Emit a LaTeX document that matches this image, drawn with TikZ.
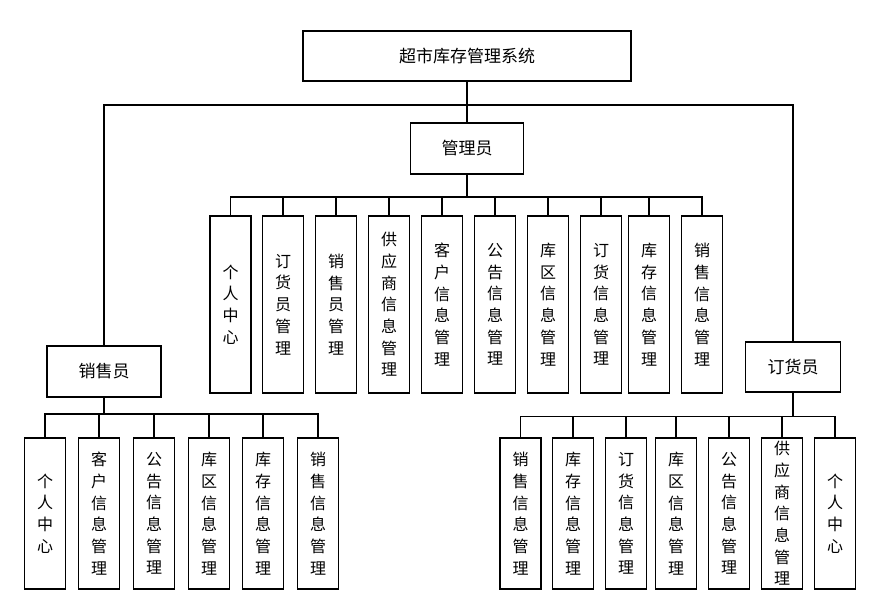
\documentclass[tikz,border=0pt]{standalone}
\usepackage{fontspec}
\setmainfont{Noto Sans CJK SC}
\usetikzlibrary{positioning}
\tikzset{
  headbox/.style={draw, line width=1.1pt, inner sep=0pt,
    font=\fontsize{17}{20}\selectfont},
  leafbox/.style={draw, line width=1.1pt, inner sep=0pt, align=center,
    minimum width=41pt, font=\fontsize{16}{21.7}\selectfont},
  link/.style={line width=1.3pt}
}

\begin{document}
\begin{tikzpicture}[x=1pt, y=-1pt]
  \useasboundingbox (0, 0) rectangle (869, 602);

  % heads
  \node[headbox, minimum width=328pt, minimum height=50pt] (sys) at (467, 56) {超市库存管理系统};
  \node[headbox, minimum width=113pt, minimum height=51pt] (mgr) at (467, 148.5) {管理员};
  \node[headbox, minimum width=114pt, minimum height=51pt] (sale) at (104, 371.5) {销售员};
  \node[headbox, minimum width=95pt, minimum height=50pt] (order) at (793, 367) {订货员};

  \coordinate (top) at (467, 105);
  \draw[link] (sys.south) -- (mgr.north);
  \draw[link] (sale.north) |- (top) -| (order.north);

  % 1
  \coordinate (mbus) at (467, 197);
  \draw[link] (mgr.south) -- (mbus);
  \foreach \x/\txt [count=\i] in {
      230.5/{个\\人\\中\\心}, 283/{订\\货\\员\\管\\理}, 336/{销\\售\\员\\管\\理},
      389/{供\\应\\商\\信\\息\\管\\理}, 442/{客\\户\\信\\息\\管\\理},
      495/{公\\告\\信\\息\\管\\理}, 548/{库\\区\\信\\息\\管\\理},
      601/{订\\货\\信\\息\\管\\理}, 649/{库\\存\\信\\息\\管\\理},
      702/{销\\售\\信\\息\\管\\理}} {
    \node[leafbox, minimum height=177pt] (m\i) at (\x, 304.5) {\txt};
    \draw[link] (mbus) -| (m\i.north);
  };

  % 2
  \coordinate (sbus) at (104, 414);
  \draw[link] (sale.south) -- (sbus);
  \foreach \x/\txt [count=\i] in {
      45/{个\\人\\中\\心}, 99/{客\\户\\信\\息\\管\\理},
      154/{公\\告\\信\\息\\管\\理}, 209/{库\\区\\信\\息\\管\\理},
      263/{库\\存\\信\\息\\管\\理}, 318/{销\\售\\信\\息\\管\\理}} {
    \node[leafbox, minimum height=151pt] (s\i) at (\x, 513.5) {\txt};
    \draw[link] (sbus) -| (s\i.north);
  };

  % 3
  \coordinate (obus) at (793, 416.5);
  \draw[link] (order.south) -- (obus);
  \foreach \x/\txt [count=\i] in {
      520.5/{销\\售\\信\\息\\管\\理}, 573/{库\\存\\信\\息\\管\\理},
      626/{订\\货\\信\\息\\管\\理}, 676/{库\\区\\信\\息\\管\\理},
      729/{公\\告\\信\\息\\管\\理}, 782/{供\\应\\商\\信\\息\\管\\理},
      835/{个\\人\\中\\心}} {
    \node[leafbox, minimum height=151pt] (o\i) at (\x, 513.5) {\txt};
    \draw[link] (obus) -| (o\i.north);
  };

\end{tikzpicture}
\end{document}
